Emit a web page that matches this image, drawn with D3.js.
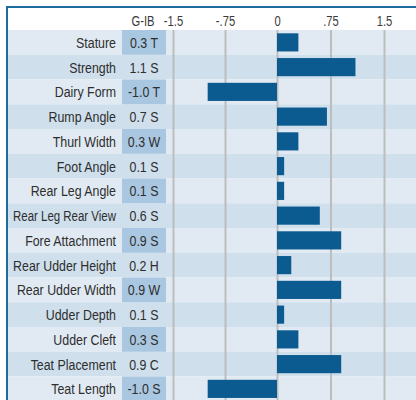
<!DOCTYPE html>
<html>
<head>
<meta charset="utf-8">
<script src="https://cdn.jsdelivr.net/npm/d3@7"></script>
<style>
  html, body { margin: 0; padding: 0; background: #fff; }
  svg { display: block; }
  text { font-family: "Liberation Sans", Arial, sans-serif; }
</style>
</head>
<body>
<svg id="chart"></svg>
<script>
const traits = ["Stature", "Strength", "Dairy Form", "Rump Angle", "Thurl Width", "Foot Angle",
  "Rear Leg Angle", "Rear Leg Rear View", "Fore Attachment", "Rear Udder Height",
  "Rear Udder Width", "Udder Depth", "Udder Cleft", "Teat Placement", "Teat Length"];
const values = [0.3, 1.1, -1.0, 0.7, 0.3, 0.1, 0.1, 0.6, 0.9, 0.2, 0.9, 0.1, 0.3, 0.9, -1.0];
const codes = ["T", "S", "T", "S", "W", "S", "S", "S", "S", "H", "W", "S", "S", "C", "S"];
const tickValues = [-1.5, -0.75, 0, 0.75, 1.5];
const tickLabels = ["-1.5", "-.75", "0", ".75", "1.5"];

const width = 416, height = 400;
const rowsTop = 30, rowH = 24.75;
const squeeze = 0.8;

const svg = d3.select("#chart").attr("width", width).attr("height", height);

const y = d3.scaleBand()
  .domain(traits)
  .range([rowsTop, rowsTop + rowH * traits.length])
  .paddingInner(0)
  .paddingOuter(0);

const x = d3.scaleLinear()
  .domain([-1.5, 0, 1.5])
  .range([173, 277, 384]);

// narrow text: scale horizontally around the anchor, and fit into maxW if given
function narrow(sel, maxW) {
  sel.each(function () {
    const t = d3.select(this);
    const px = +t.attr("x"), py = +t.attr("y");
    let s = squeeze;
    const w = this.getComputedTextLength();
    if (maxW && w * s > maxW) s = maxW / w;
    t.attr("x", 0).attr("y", 0).attr("transform", `translate(${px},${py}) scale(${s},1)`);
  });
}

// row stripes
svg.append("g").selectAll("rect")
  .data(traits)
  .join("rect")
  .attr("x", 8)
  .attr("y", d => y(d))
  .attr("width", width - 8)
  .attr("height", y.bandwidth())
  .attr("fill", (d, i) => i % 2 === 0 ? "#e1eaf3" : "#cfdfec");

// highlighted value cells
svg.append("g").selectAll("rect")
  .data(traits.filter((d, i) => i % 2 === 0))
  .join("rect")
  .attr("x", 122)
  .attr("y", d => y(d))
  .attr("width", 44)
  .attr("height", y.bandwidth())
  .attr("fill", "#a9c7e0");

// axis with gridlines
const axis = svg.append("g")
  .attr("transform", `translate(0,${rowsTop})`)
  .call(d3.axisTop(x)
    .tickValues(tickValues)
    .tickFormat((d, i) => tickLabels[i])
    .tickSize(-(height - rowsTop))
    .tickPadding(5));
axis.select(".domain").remove();
axis.selectAll(".tick line").attr("stroke", "#bdbdbd").attr("stroke-width", 2);
axis.selectAll(".tick text")
  .attr("fill", "#3a3a3a")
  .attr("font-size", 14)
  .attr("dy", null)
  .attr("y", -4)
  .call(narrow);

// bars
svg.append("g").selectAll("rect")
  .data(values)
  .join("rect")
  .attr("x", d => x(Math.min(0, d)))
  .attr("y", (d, i) => y(traits[i]) + 3.3)
  .attr("width", d => Math.abs(x(d) - x(0)))
  .attr("height", y.bandwidth() - 6.6)
  .attr("fill", "#0b5a90");

// trait labels
svg.append("g").selectAll("text")
  .data(traits)
  .join("text")
  .attr("x", 116)
  .attr("y", d => y(d) + y.bandwidth() / 2 + 5.5)
  .attr("text-anchor", "end")
  .attr("font-size", 15.5)
  .attr("fill", "#2e2e2e")
  .text(d => d)
  .call(narrow, 103);

// G-IB values
svg.append("text")
  .attr("x", 143).attr("y", 26)
  .attr("text-anchor", "middle")
  .attr("font-size", 14)
  .attr("fill", "#3a3a3a")
  .text("G-IB")
  .call(narrow);

svg.append("g").selectAll("text")
  .data(values)
  .join("text")
  .attr("x", 144)
  .attr("y", (d, i) => y(traits[i]) + y.bandwidth() / 2 + 5.5)
  .attr("text-anchor", "middle")
  .attr("font-size", 15.5)
  .attr("fill", "#2e2e2e")
  .text((d, i) => d.toFixed(1) + " " + codes[i])
  .call(narrow, 40);

// frame
svg.append("line").attr("x1", 6).attr("x2", width).attr("y1", 7).attr("y2", 7)
  .attr("stroke", "#1d6a9c").attr("stroke-width", 2);
svg.append("line").attr("x1", 7).attr("x2", 7).attr("y1", 6).attr("y2", height)
  .attr("stroke", "#1d6a9c").attr("stroke-width", 2);
</script>
</body>
</html>
